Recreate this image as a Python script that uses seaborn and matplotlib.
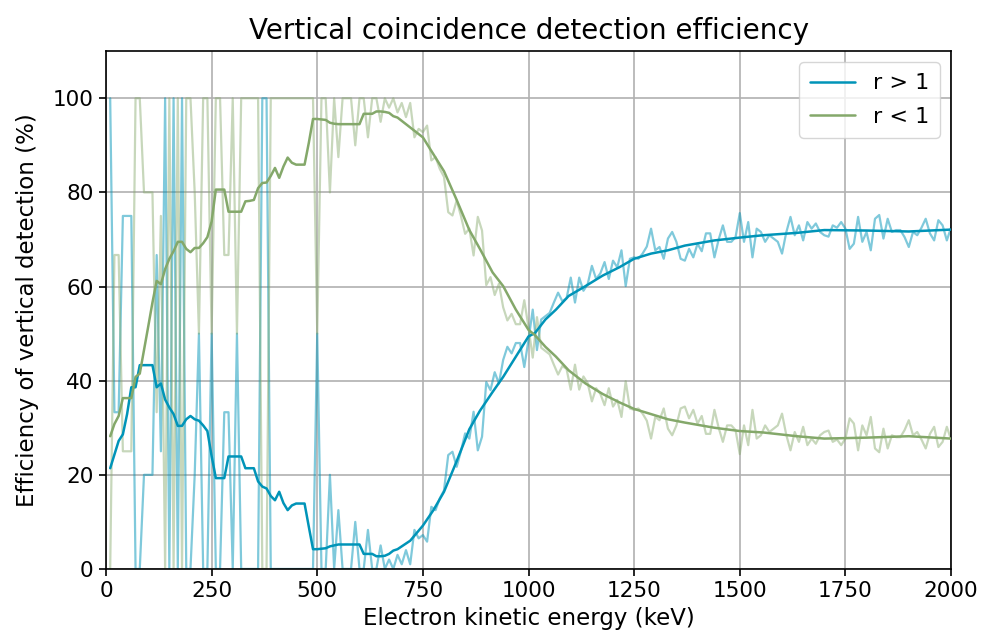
import numpy as np
import pandas as pd
import matplotlib
matplotlib.use("Agg")
import matplotlib.pyplot as plt
import seaborn as sns

# ---------------- data ----------------
energy_raw = list(range(10, 2001, 10))  # keV

raw_r_gt_1 = [
    100, 33.3, 33.3, 75, 75, 75, 0, 0, 20, 20,
    20, 66.7, 25, 100, 0, 100, 0, 100, 0, 0,
    20, 50, 0, 0, 50, 0, 0, 33.3, 33.3, 0,
    50, 0, 0, 0, 0, 0, 100, 100, 0, 0,
    0, 0, 0, 0, 0, 0, 0, 0, 0, 50,
    0, 0, 20, 0, 12.5, 0, 0, 0, 10, 0,
    0, 8.3, 0, 0, 5, 0, 2, 0, 3, 1,
    4, 1, 8.3, 6.5, 7.2, 5.8, 13.2, 12.5, 15, 16.7,
    24.2, 24.9, 21.7, 25, 28.8, 27.7, 33.4, 25.2, 28.1, 39.7,
    38, 41.8, 39.4, 44.4, 47.2, 45.8, 48, 48, 42.9, 48.7,
    55.1, 46.5, 53, 53.7, 54.4, 56.6, 58.7, 56.9, 57.5, 61.9,
    56.6, 61.9, 59.1, 60.5, 64.4, 61.6, 62.8, 65.2, 61.6, 65.5,
    64.1, 67.7, 60.1, 65.9, 66.2, 65.9, 67, 68.5, 72.3, 67.7,
    68.4, 65.9, 70.2, 71.6, 69.5, 65.9, 65.5, 68, 66.2, 69.1,
    67.5, 71.3, 71.3, 66.2, 70, 73, 69.5, 69.5, 70.5, 75.6,
    69.5, 73.7, 66.2, 72.3, 71.6, 69.5, 70.9, 70.2, 69.5, 67,
    71.5, 74.8, 70.9, 73, 69.8, 73.7, 72.3, 73.4, 71.6, 70.9,
    70.6, 73, 72.5, 73.7, 72.3, 68, 69.1, 74.8, 69.5, 71.6,
    67.7, 74.4, 75.2, 70.2, 74.4, 71.6, 72, 72, 70.5, 68.4,
    71.6, 70.9, 72.5, 74.4, 71.3, 69.8, 74.1, 73, 69.8, 72.5,
]

raw_r_lt_1 = [
    0, 66.7, 66.7, 25, 25, 25, 100, 100, 80, 80,
    80, 33.3, 75, 0, 100, 0, 100, 0, 100, 100,
    80, 50, 100, 100, 50, 100, 100, 66.7, 66.7, 100,
    50, 100, 100, 100, 100, 100, 0, 0, 100, 100,
    100, 100, 100, 100, 100, 100, 100, 100, 100, 50,
    100, 100, 80, 100, 87.5, 100, 100, 100, 90, 100,
    100, 91.7, 100, 100, 95, 100, 98, 100, 97, 99,
    96, 99, 91.7, 93.5, 92.8, 94.2, 86.8, 87.5, 85, 83.3,
    75.8, 75.1, 78.3, 75, 71.2, 72.3, 66.6, 74.8, 71.9, 60.3,
    62, 58.2, 60.6, 55.6, 52.8, 54.2, 52, 52, 57.1, 51.3,
    44.9, 53.5, 47, 46.3, 45.6, 43.4, 41.3, 43.1, 42.5, 38.1,
    43.4, 38.1, 40.9, 39.5, 35.6, 38.4, 37.2, 34.8, 38.4, 34.5,
    35.9, 32.3, 39.9, 34.1, 33.8, 34.1, 33, 31.5, 27.7, 32.3,
    31.6, 34.1, 29.8, 28.4, 30.5, 34.1, 34.5, 32, 33.8, 30.9,
    32.5, 28.7, 28.7, 33.8, 30, 27, 30.5, 30.5, 29.5, 24.4,
    30.5, 26.3, 33.8, 27.7, 28.4, 30.5, 29.1, 29.8, 30.5, 33,
    28.5, 25.2, 29.1, 27, 30.2, 26.3, 27.7, 26.6, 28.4, 29.1,
    29.4, 27, 27.5, 26.3, 27.7, 32, 30.9, 25.2, 30.5, 28.4,
    32.3, 25.6, 24.8, 29.8, 25.6, 28.4, 28, 28, 29.5, 31.6,
    28.4, 29.1, 27.5, 25.6, 28.7, 30.2, 25.9, 27, 30.2, 27.5,
]

energy_smooth = [
    10, 20, 30, 40, 50, 60, 70, 80, 90, 100,
    110, 120, 130, 140, 150, 160, 170, 180, 190, 200,
    210, 220, 230, 240, 250, 260, 270, 280, 290, 300,
    310, 320, 330, 340, 350, 360, 370, 380, 390, 400,
    410, 420, 430, 440, 450, 460, 470, 480, 490, 500,
    510, 520, 530, 540, 550, 560, 570, 580, 590, 600,
    610, 620, 630, 640, 650, 660, 670, 680, 690, 700,
    720, 750, 775, 800, 830, 860, 885, 915, 940, 970,
    1000, 1015, 1040, 1065, 1095, 1135, 1175, 1215, 1250, 1290,
    1330, 1370, 1440, 1500, 1555, 1635, 1700, 1800, 1900, 2000,
]

smooth_r_gt_1 = [
    21.4, 24.3, 27.2, 28.6, 32.9, 38.6, 38.6, 43.3, 43.3, 43.3,
    43.3, 38.6, 39.4, 36.0, 34.3, 32.9, 30.4, 30.4, 31.8, 32.5,
    31.8, 31.5, 30.5, 29.3, 24.0, 19.3, 19.3, 19.3, 23.9, 23.9,
    23.9, 23.9, 21.4, 21.4, 21.4, 18.6, 17.5, 17.1, 15.5, 14.6,
    16.4, 14.0, 12.5, 13.5, 13.9, 13.9, 13.9, 9.0, 4.2, 4.2,
    4.3, 4.4, 4.8, 5.0, 5.2, 5.2, 5.2, 5.2, 5.2, 5.2,
    3.2, 3.2, 3.2, 2.7, 2.7, 2.8, 3.2, 3.9, 4.2, 4.8,
    6.0, 9.2, 12.5, 16.4, 22.9, 29.7, 33.6, 37.6, 40.8, 45.1,
    49.4, 50.1, 53.0, 55.1, 58.0, 60.1, 62.3, 64.1, 65.9, 67.0,
    67.7, 68.7, 69.8, 70.4, 70.9, 71.4, 72.0, 71.9, 71.7, 72.1,
]

smooth_r_lt_1 = [
    28.2, 30.8, 32.5, 36.3, 36.3, 36.3, 40.8, 41.5, 46.5, 51.5,
    56.6, 61.2, 60.5, 63.7, 65.9, 67.5, 69.5, 69.5, 68.0, 67.3,
    68.2, 68.2, 69.2, 70.5, 73.8, 80.6, 80.6, 80.6, 75.9, 75.9,
    75.9, 75.9, 78.1, 78.2, 78.4, 80.9, 82.0, 82.1, 83.5, 85.2,
    83.1, 85.5, 87.4, 86.3, 85.9, 85.9, 85.9, 90.5, 95.6, 95.6,
    95.5, 95.4, 94.8, 94.6, 94.5, 94.5, 94.5, 94.5, 94.5, 94.5,
    96.7, 96.7, 96.7, 97.2, 97.2, 97.1, 96.9, 96.2, 95.9, 95.2,
    93.8, 91.7, 88.1, 84.5, 78.4, 72.0, 68.0, 63.0, 60.1, 55.1,
    50.8, 49.7, 47.2, 45.1, 42.2, 39.4, 37.2, 35.4, 34.0, 32.9,
    31.8, 31.1, 30.0, 29.3, 29.0, 28.2, 27.7, 27.9, 28.2, 27.7,
]

series_labels = ["r > 1", "r < 1"]
x_ticks = [0, 250, 500, 750, 1000, 1250, 1500, 1750, 2000]
y_ticks = [0, 20, 40, 60, 80, 100]

# ---------------- plot ----------------
sns.set_style("ticks")
plt.rcParams["font.family"] = ["DejaVu Sans"]
plt.rcParams["text.color"] = "black"
plt.rcParams["axes.labelcolor"] = "black"
plt.rcParams["xtick.color"] = "black"
plt.rcParams["ytick.color"] = "black"

BLUE = "#0094b8"
GREEN = "#84a86a"

fig = plt.figure(figsize=(9.83, 6.4), dpi=100)
ax = fig.add_axes([0.1078, 0.111, 0.8597, 0.809])

raw_df = pd.DataFrame({"energy": energy_raw, "gt": raw_r_gt_1, "lt": raw_r_lt_1})
sm_df = pd.DataFrame({"energy": energy_smooth, "gt": smooth_r_gt_1, "lt": smooth_r_lt_1})

sns.lineplot(data=raw_df, x="energy", y="gt", ax=ax, color=BLUE, alpha=0.5,
             lw=1.6, estimator=None, sort=False, zorder=2)
sns.lineplot(data=raw_df, x="energy", y="lt", ax=ax, color=GREEN, alpha=0.45,
             lw=1.6, estimator=None, sort=False, zorder=2)
sns.lineplot(data=sm_df, x="energy", y="gt", ax=ax, color=BLUE, lw=1.8,
             estimator=None, sort=False, label=series_labels[0], zorder=3)
sns.lineplot(data=sm_df, x="energy", y="lt", ax=ax, color=GREEN, lw=1.8,
             estimator=None, sort=False, label=series_labels[1], zorder=3)

ax.set_xlim(0, 2000)
ax.set_ylim(0, 110)
ax.set_xticks(x_ticks)
ax.set_yticks(y_ticks)
ax.tick_params(labelsize=15.5, length=5, width=1.2, direction="out", pad=4)
ax.grid(True, color="#b0b0b0", lw=1.2)
ax.set_axisbelow(True)
for s in ax.spines.values():
    s.set_linewidth(1.2)
    s.set_color("black")

ax.set_xlabel("Electron kinetic energy (keV)", fontsize=16.5, labelpad=4)
ax.set_ylabel("Efficiency of vertical detection (%)", fontsize=16.5, labelpad=10)
ax.set_title("Vertical coincidence detection efficiency", fontsize=20, pad=9)

leg = ax.legend(loc="upper right", fontsize=16, frameon=True, fancybox=True,
                framealpha=0.8, edgecolor="#cccccc", handlelength=2.0,
                borderpad=0.5, labelspacing=0.6)

fig.savefig("out.png", dpi=100)
